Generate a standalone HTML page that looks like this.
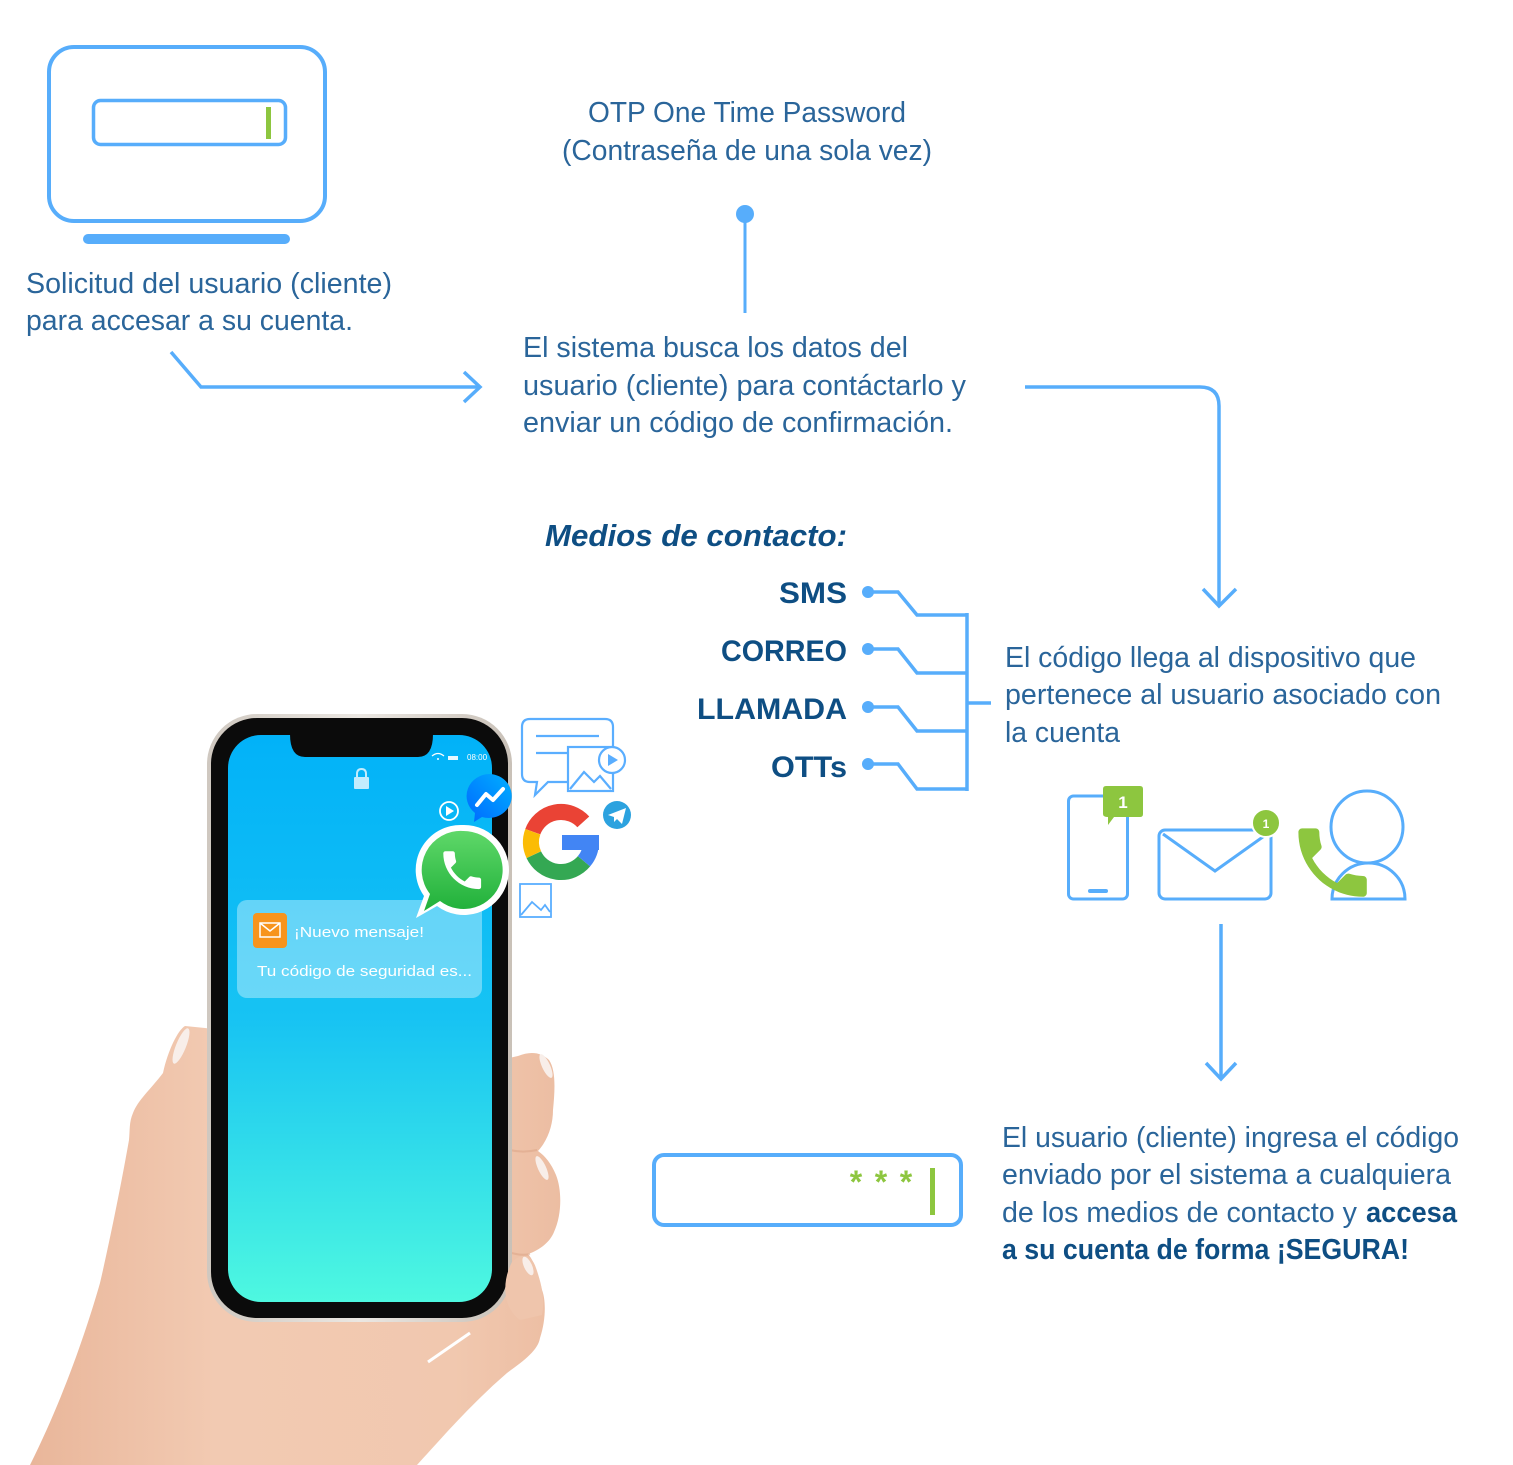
<!DOCTYPE html>
<html>
<head>
<meta charset="utf-8">
<style>
html,body{margin:0;padding:0;background:#fff;}
body{width:1513px;height:1465px;overflow:hidden;}
svg{display:block;}
.t{font-family:"Liberation Sans",sans-serif;font-size:28.5px;fill:#2a659a;}
.b{font-family:"Liberation Sans",sans-serif;font-weight:bold;fill:#0e4e83;}
.ln{fill:none;stroke:#57adfb;stroke-width:3.5;stroke-linejoin:miter;}
</style>
</head>
<body>
<svg width="1513" height="1465" viewBox="0 0 1513 1465" xmlns="http://www.w3.org/2000/svg">
<defs>
  <linearGradient id="scr" x1="0" y1="0" x2="0" y2="1">
    <stop offset="0" stop-color="#02b2f8"/>
    <stop offset="0.5" stop-color="#17c3f3"/>
    <stop offset="1" stop-color="#4ef8e0"/>
  </linearGradient>
  <linearGradient id="skin" x1="0" y1="0" x2="1" y2="0">
    <stop offset="0" stop-color="#e9b69a"/>
    <stop offset="0.35" stop-color="#f2cab2"/>
    <stop offset="0.8" stop-color="#f1c8af"/>
    <stop offset="1" stop-color="#ecbda2"/>
  </linearGradient>
  <linearGradient id="silver" x1="0" y1="0" x2="1" y2="0">
    <stop offset="0" stop-color="#cfc8c0"/>
    <stop offset="0.5" stop-color="#ebe7e2"/>
    <stop offset="1" stop-color="#c9c1b8"/>
  </linearGradient>
  <linearGradient id="wa" x1="0" y1="0" x2="0" y2="1">
    <stop offset="0" stop-color="#5fd869"/>
    <stop offset="1" stop-color="#20b03a"/>
  </linearGradient>
  <linearGradient id="ms" x1="0" y1="1" x2="1" y2="0">
    <stop offset="0" stop-color="#0068ff"/>
    <stop offset="1" stop-color="#00b0ff"/>
  </linearGradient>
</defs>

<!-- Monitor -->
<rect x="49" y="47" width="276" height="174" rx="25" fill="none" stroke="#57adfb" stroke-width="4"/>
<rect x="93.5" y="100.5" width="192" height="44" rx="7" fill="none" stroke="#57adfb" stroke-width="3.5"/>
<rect x="266" y="107" width="5" height="32" fill="#8dc63f"/>
<rect x="83" y="234" width="207" height="10" rx="5" fill="#57adfb"/>

<text class="t" x="26" y="293" textLength="366" lengthAdjust="spacingAndGlyphs">Solicitud del usuario (cliente)</text>
<text class="t" x="26" y="330" textLength="327" lengthAdjust="spacingAndGlyphs">para accesar a su cuenta.</text>

<!-- Arrow 1 -->
<polyline class="ln" points="171,352 201,387 479,387"/>
<polyline class="ln" points="464,372 480,387 464,402"/>

<!-- OTP -->
<text class="t" x="588" y="122" textLength="318" lengthAdjust="spacingAndGlyphs">OTP One Time Password</text>
<text class="t" x="562" y="160" textLength="370" lengthAdjust="spacingAndGlyphs">(Contraseña de una sola vez)</text>
<circle cx="745" cy="214" r="9" fill="#57adfb"/>
<line x1="745" y1="214" x2="745" y2="313" stroke="#57adfb" stroke-width="3"/>

<text class="t" x="523" y="357" textLength="385" lengthAdjust="spacingAndGlyphs">El sistema busca los datos del</text>
<text class="t" x="523" y="395" textLength="443" lengthAdjust="spacingAndGlyphs">usuario (cliente) para contáctarlo y</text>
<text class="t" x="523" y="432" textLength="430" lengthAdjust="spacingAndGlyphs">enviar un código de confirmación.</text>

<!-- Arrow 2 -->
<path class="ln" d="M1025,387 H1200 Q1219,387 1219,406 V606"/>
<polyline class="ln" points="1203,589 1219,606 1236,589"/>

<!-- Medios -->
<text class="b" x="545" y="546" font-size="31" font-style="italic" textLength="302" lengthAdjust="spacingAndGlyphs">Medios de contacto:</text>
<text class="b" x="847" y="603" font-size="30" text-anchor="end" textLength="68" lengthAdjust="spacingAndGlyphs">SMS</text>
<text class="b" x="847" y="661" font-size="30" text-anchor="end" textLength="126" lengthAdjust="spacingAndGlyphs">CORREO</text>
<text class="b" x="847" y="719" font-size="30" text-anchor="end" textLength="150" lengthAdjust="spacingAndGlyphs">LLAMADA</text>
<text class="b" x="847" y="777" font-size="30" text-anchor="end" textLength="76" lengthAdjust="spacingAndGlyphs">OTTs</text>

<g fill="#57adfb">
<circle cx="868" cy="592" r="6"/>
<circle cx="868" cy="649" r="6"/>
<circle cx="868" cy="707" r="6"/>
<circle cx="868" cy="764" r="6"/>
</g>
<polyline class="ln" points="868,592 898,592 917,615 967,615"/>
<polyline class="ln" points="868,649 898,649 917,673 967,673"/>
<polyline class="ln" points="868,707 898,707 917,731 967,731"/>
<polyline class="ln" points="868,764 898,764 917,789 967,789"/>
<line x1="967" y1="613" x2="967" y2="791" stroke="#57adfb" stroke-width="3.5"/>
<line x1="967" y1="703" x2="991" y2="703" stroke="#57adfb" stroke-width="3.5"/>

<text class="t" x="1005" y="667" textLength="411" lengthAdjust="spacingAndGlyphs">El código llega al dispositivo que</text>
<text class="t" x="1005" y="704" textLength="436" lengthAdjust="spacingAndGlyphs">pertenece al usuario asociado con</text>
<text class="t" x="1005" y="742" textLength="115" lengthAdjust="spacingAndGlyphs">la cuenta</text>

<!-- Device icons -->
<rect x="1068.5" y="796" width="59" height="103" rx="5" fill="none" stroke="#57adfb" stroke-width="3"/>
<rect x="1088" y="889" width="20" height="4" rx="2" fill="#57adfb"/>
<path d="M1106,786 H1140 Q1143,786 1143,789 V814 Q1143,817 1140,817 H1114 L1108,825 L1108,817 Q1103,817 1103,814 V789 Q1103,786 1106,786 Z" fill="#8dc63f"/>
<text x="1123" y="808" font-family="Liberation Sans,sans-serif" font-weight="bold" font-size="17" fill="#fff" text-anchor="middle">1</text>

<rect x="1159" y="830" width="112" height="69" rx="6" fill="none" stroke="#57adfb" stroke-width="3"/>
<polyline points="1163,834 1215,871 1267,834" fill="none" stroke="#57adfb" stroke-width="3"/>
<circle cx="1266" cy="823" r="14" fill="#8dc63f" stroke="#fff" stroke-width="2"/>
<text x="1266" y="828" font-family="Liberation Sans,sans-serif" font-weight="bold" font-size="12" fill="#fff" text-anchor="middle">1</text>

<circle cx="1367" cy="827" r="36" fill="none" stroke="#57adfb" stroke-width="3"/>
<path d="M1332,899 A36.5,36 0 0 1 1405,899 Z" fill="none" stroke="#57adfb" stroke-width="3"/>
<path transform="translate(1287,817) scale(3.8)" fill="#8dc63f" d="M6.62 10.79c1.44 2.83 3.76 5.14 6.59 6.59l2.2-2.2c.27-.27.67-.36 1.020-.24 1.12.37 2.33.57 3.57.57.55 0 1 .45 1 1V20c0 .55-.45 1-1 1-9.39 0-17-7.61-17-17 0-.55.45-1 1-1h3.5c.55 0 1 .45 1 1 0 1.25.2 2.45.57 3.57.11.35.03.74-.25 1.020l-2.2 2.2z"/>

<!-- Arrow 3 -->
<line x1="1221" y1="924" x2="1221" y2="1079" stroke="#57adfb" stroke-width="3.5"/>
<polyline class="ln" points="1206,1063 1221,1079 1236,1063"/>

<!-- Password box -->
<rect x="654" y="1155" width="307" height="70" rx="10" fill="none" stroke="#57adfb" stroke-width="4"/>
<g font-family="Liberation Sans,sans-serif" font-size="32" font-weight="bold" fill="#8dc63f" text-anchor="middle">
<text x="856" y="1193">*</text>
<text x="881" y="1193">*</text>
<text x="906" y="1193">*</text>
</g>
<rect x="930" y="1168" width="5" height="47" fill="#8dc63f"/>

<text class="t" x="1002" y="1147" textLength="457" lengthAdjust="spacingAndGlyphs">El usuario (cliente) ingresa el código</text>
<text class="t" x="1002" y="1184" textLength="449" lengthAdjust="spacingAndGlyphs">enviado por el sistema a cualquiera</text>
<text class="t" x="1002" y="1222" textLength="355" lengthAdjust="spacingAndGlyphs">de los medios de contacto y</text>
<text class="b" x="1366" y="1222" font-size="28.5" textLength="91" lengthAdjust="spacingAndGlyphs">accesa</text>
<text class="b" x="1002" y="1259" font-size="28.5" textLength="407" lengthAdjust="spacingAndGlyphs">a su cuenta de forma ¡SEGURA!</text>

<!-- Hand -->
<path fill="url(#skin)" d="M185,1026 C178,1030 168,1050 163,1073 C150,1090 138,1100 133,1113 C129,1122 130,1130 129,1140 C122,1180 110,1240 100,1283 C88,1325 65,1395 30,1465 L417,1465 C440,1440 470,1405 507,1373 C525,1360 538,1350 540,1338 C546,1320 546,1300 542,1290 C538,1275 535,1262 528,1254 C540,1250 550,1242 554,1232 C562,1215 562,1190 556,1175 C551,1163 545,1156 538,1151 C548,1140 553,1125 553,1110 C555,1090 556,1070 549,1060 C541,1052 530,1051 518,1056 L500,1060 L300,1040 L205,1028 Z"/>
<path d="M537,1150 C528,1152 518,1152 510,1150" stroke="#d9a284" stroke-width="2" fill="none" opacity="0.5"/>
<path d="M530,1254 C522,1256 514,1254 508,1252" stroke="#d9a284" stroke-width="2" fill="none" opacity="0.5"/>
<line x1="428" y1="1362" x2="470" y2="1333" stroke="#fff" stroke-width="3"/>
<g fill="#f8eee9">
<ellipse cx="181" cy="1046" rx="5" ry="19" transform="rotate(22 181 1046)"/>
<ellipse cx="546" cy="1066" rx="4" ry="13" transform="rotate(-25 546 1066)"/>
<ellipse cx="542" cy="1168" rx="4" ry="13" transform="rotate(-25 542 1168)"/>
</g>

<!-- Phone -->
<rect x="207" y="714" width="305" height="608" rx="50" fill="url(#silver)"/>
<rect x="211" y="718" width="297" height="600" rx="46" fill="#0b0b0b"/>
<rect x="228" y="735" width="264" height="567" rx="33" fill="url(#scr)"/>
<path d="M290,734 H433 Q433,757 418,757 H305 Q290,757 290,734 Z" fill="#0b0b0b"/>
<!-- finger over phone corner -->
<path fill="#efc5ac" d="M512,1262 C522,1252 532,1255 536,1268 C542,1285 545,1300 542,1315 L520,1320 C505,1310 500,1285 512,1262 Z"/>
<ellipse cx="528" cy="1266" rx="4" ry="10" transform="rotate(-25 528 1266)" fill="#f8eee9"/>

<!-- status bar -->
<path d="M432,756 Q438,751 444,756" stroke="#fff" stroke-width="1.2" fill="none"/>
<circle cx="438" cy="759" r="1" fill="#fff"/>
<rect x="448" y="756" width="10" height="4" fill="#fff" opacity="0.9"/>
<text x="467" y="760" font-family="Liberation Sans,sans-serif" font-size="8" fill="#fff">08:00</text>
<!-- lock -->
<path d="M357,777 V774 Q357,769 361.5,769 Q366,769 366,774 V777" stroke="#c2ecfd" stroke-width="2" fill="none"/>
<rect x="354" y="777" width="15" height="12" rx="1" fill="#c2ecfd"/>
<!-- play -->
<circle cx="449" cy="811" r="9" fill="none" stroke="#fff" stroke-width="1.8"/>
<polygon points="446,806 454,811 446,816" fill="#fff"/>

<!-- Notification card -->
<rect x="237" y="900" width="245" height="98" rx="10" fill="#ffffff" opacity="0.36"/>
<rect x="253" y="913" width="34" height="35" rx="4" fill="#f7941d"/>
<rect x="260" y="923" width="20" height="14" fill="none" stroke="#fff" stroke-width="1.5"/>
<polyline points="260,923 270,931 280,923" fill="none" stroke="#fff" stroke-width="1.5"/>
<text x="294" y="937" font-family="Liberation Sans,sans-serif" font-size="15" fill="#fff" textLength="130" lengthAdjust="spacingAndGlyphs">¡Nuevo mensaje!</text>
<text x="257" y="976" font-family="Liberation Sans,sans-serif" font-size="15" fill="#fff" textLength="215" lengthAdjust="spacingAndGlyphs">Tu código de seguridad es...</text>

<!-- Messenger -->
<path d="M490,774 A23,22 0 1 1 482,817 L474,822 L475,813 A23,22 0 0 1 490,774 Z" fill="url(#ms)"/>
<polyline points="477,805 486,794 493,800 503,789" fill="none" stroke="#fff" stroke-width="4" stroke-linejoin="round" stroke-linecap="round"/>

<!-- WhatsApp -->
<path d="M463,825 A45,45 0 1 1 437,906 L416,918 L424,896 A45,45 0 0 1 463,825 Z" fill="#fff"/>
<path d="M463,831 A39,39 0 1 1 440,901 L424,911 L430,894 A39,39 0 0 1 463,831 Z" fill="url(#wa)"/>
<path transform="translate(437,845) scale(2.1)" fill="#fff" d="M6.62 10.79c1.44 2.83 3.76 5.14 6.59 6.59l2.2-2.2c.27-.27.67-.36 1.020-.24 1.12.37 2.33.57 3.57.57.55 0 1 .45 1 1V20c0 .55-.45 1-1 1-9.39 0-17-7.61-17-17 0-.55.45-1 1-1h3.5c.55 0 1 .45 1 1 0 1.25.2 2.45.57 3.57.11.35.03.74-.25 1.020l-2.2 2.2z"/>

<!-- Chat/image outline icon -->
<g fill="none" stroke="#5aaeff" stroke-width="2.2">
<path d="M530,719 H605 Q613,719 613,727 V774 Q613,782 605,782 H548 L535,795 L537,782 H530 Q522,782 522,774 V727 Q522,719 530,719 Z" fill="#fff"/>
<line x1="536" y1="736" x2="599" y2="736"/>
<line x1="536" y1="753" x2="568" y2="753"/>
<rect x="568" y="747" width="45" height="44" fill="#fff"/>
<polyline points="570,789 584,772 594,782 600,776 611,789"/>
<circle cx="612" cy="760" r="13" fill="#fff"/>
</g>
<polygon points="608,754 618,760 608,766" fill="#5aaeff"/>

<!-- Google G -->
<g fill="none" stroke-width="16">
<path d="M583.3,821.9 A30,30 0 0 0 532.8,831.7" stroke="#ea4335"/>
<path d="M532.8,831.7 A30,30 0 0 0 533.8,854.7" stroke="#fbbc05"/>
<path d="M533.8,854.7 A30,30 0 0 0 584,861.3" stroke="#34a853"/>
<path d="M584,861.3 A30,30 0 0 0 591,842" stroke="#4285f4"/>
</g>
<rect x="562" y="835" width="37" height="15" fill="#4285f4"/>

<!-- Telegram -->
<circle cx="617" cy="815" r="14" fill="#2ca2df"/>
<polygon points="608,815 626,808 622,824 617,819 614,822 614,817" fill="#fff"/>

<!-- small image icon -->
<g fill="none" stroke="#5aaeff" stroke-width="1.8">
<rect x="520" y="884" width="31" height="33"/>
<polyline points="521,915 532,902 541,910 545,905 550,912"/>
</g>
</svg>
</body>
</html>
